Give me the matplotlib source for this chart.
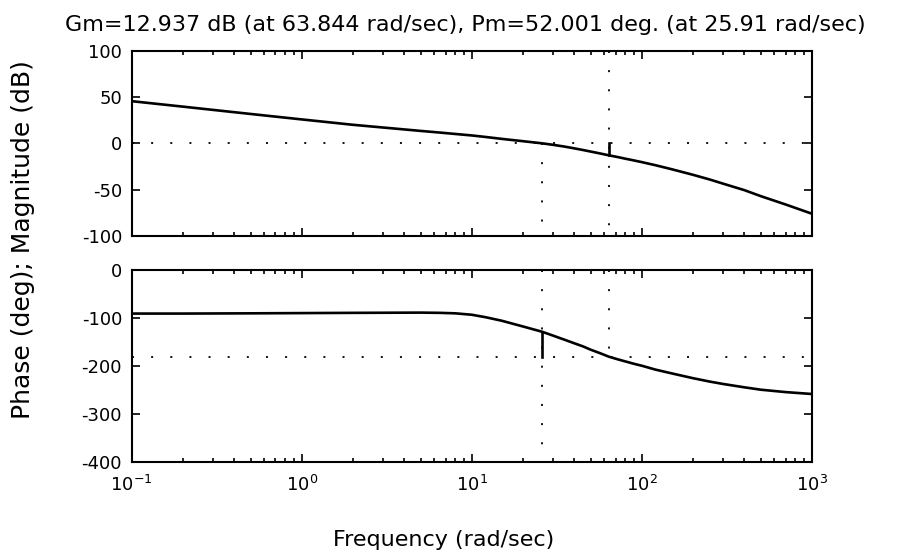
import numpy as np
import matplotlib
matplotlib.use("Agg")
import matplotlib.pyplot as plt

# Valores (diagrama de Bode com margens)
freq = [0.1, 0.2, 0.5, 1, 2, 5, 6.5, 8, 10, 12, 15, 20, 25.91, 30, 35, 40, 45,
        50, 57, 63.844, 72, 80, 90, 100, 120, 150, 200, 250, 300, 400, 500,
        700, 1000]
mag_db = [45.5, 39.6, 31.7, 25.8, 20.0, 13.4, 11.6, 10.1, 8.5, 6.9, 4.8, 2.3,
          0.0, -1.6, -3.5, -5.4, -7.2, -8.9, -11.0, -12.937, -14.8, -16.6,
          -18.5, -20.3, -23.6, -28.0, -34.0, -39.0, -43.5, -50.5, -57.0,
          -66.0, -76.0]
phase_deg = [-90, -90, -89.5, -89, -88.5, -88, -88.5, -89.5, -92.5, -97.5,
             -105, -117, -127.999, -136, -144.5, -152, -158.5, -165.5, -173,
             -180, -185.5, -190, -195, -199, -207, -215, -225, -232, -237,
             -244, -249, -254, -258]

Gm = 12.937      # dB
Wcg = 63.844     # rad/sec
Pm = 52.001      # deg
Wcp = 25.91      # rad/sec

plt.rcParams['font.family'] = ['DejaVu Sans']
plt.rcParams['axes.unicode_minus'] = False

fig = plt.figure(figsize=(8.98, 5.6), dpi=100)
ax1 = fig.add_axes([0.1467, 0.5786, 0.7575, 0.3309])
ax2 = fig.add_axes([0.1467, 0.175, 0.7575, 0.342])

dot = (0, (1.1, 9.5))
kw_dot = dict(color='black', lw=1.3, linestyle=dot, dash_capstyle='butt')

# Magnitude
ax1.semilogx(freq, mag_db, color='black', lw=1.9)
ax1.plot([0.1, 1000], [0, 0], **kw_dot)
ax1.plot([Wcg, Wcg], [100, -100], **kw_dot)
ax1.plot([Wcp, Wcp], [0, -100], **kw_dot)
ax1.plot([Wcg, Wcg], [0, -Gm], color='black', lw=1.9)
ax1.set_ylim(-100, 100)
ax1.set_yticks([-100, -50, 0, 50, 100])
ax1.set_xticklabels([])
ax1.set_title(f"Gm={Gm} dB (at {Wcg} rad/sec), Pm={Pm} deg. (at {Wcp} rad/sec)",
              fontsize=16, pad=14, x=0.491)

# Phase
ax2.semilogx(freq, phase_deg, color='black', lw=1.9)
ax2.plot([0.1, 1000], [-180, -180], **kw_dot)
ax2.plot([Wcp, Wcp], [0, -400], **kw_dot)
ax2.plot([Wcg, Wcg], [0, -180], **kw_dot)
ax2.plot([Wcp, Wcp], [-180, Pm - 180], color='black', lw=1.9)
ax2.set_ylim(-400, 0)
ax2.set_yticks([-400, -300, -200, -100, 0])

for ax in (ax1, ax2):
    ax.set_xlim(0.1, 1000)
    ax.set_xticks([0.1, 1, 10, 100, 1000])
    ax.tick_params(which='both', direction='in', top=True, right=True,
                   labelsize=13, width=1.2)
    ax.tick_params(which='major', length=5.5, pad=7)
    ax.tick_params(which='minor', length=3)
    for s in ax.spines.values():
        s.set_linewidth(1.5)

ax2.tick_params(axis='x', which='major', pad=9)

fig.text(0.494, 0.035, "Frequency (rad/sec)", ha='center', va='center', fontsize=16)
fig.text(0.026, 0.573, "Phase (deg); Magnitude (dB)", ha='center', va='center',
         rotation=90, fontsize=18)

fig.savefig("out.png", dpi=100)
